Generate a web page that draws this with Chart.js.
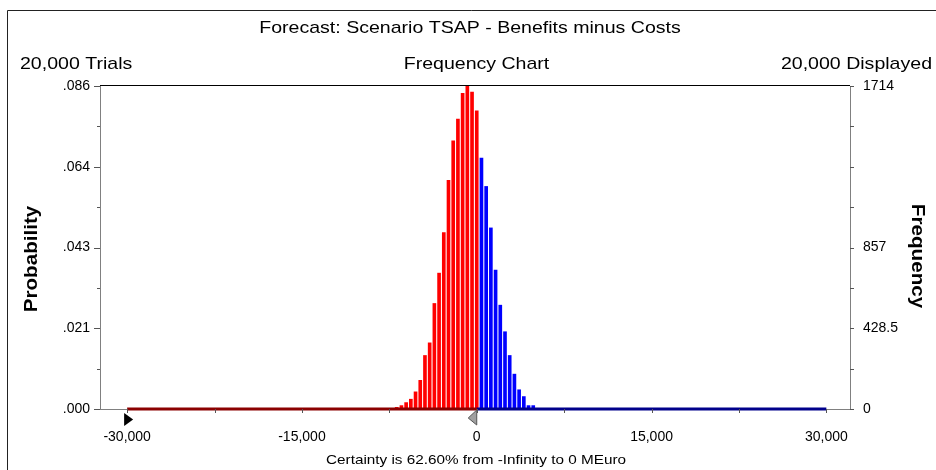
<!DOCTYPE html>
<html>
<head>
<meta charset="utf-8">
<script src="https://cdn.jsdelivr.net/npm/chart.js@4.4.0/dist/chart.umd.min.js"></script>
<style>
  body { margin: 0; background: #fff; }
  #wrap { width: 936px; height: 470px; }
</style>
</head>
<body>
<div id="wrap"><canvas id="forecast-chart"></canvas></div>
<script>
// bin centres (MEuro) and trial counts
const redBins = [-6868, -6464, -6060, -5656, -5252, -4848, -4444, -4040, -3636, -3232, -2828, -2424, -2020, -1616, -1212, -808, -404, 0];
const redFreq = [9, 18, 34, 52, 91, 152, 284, 351, 560, 721, 936, 1213, 1423, 1539, 1675, 1714, 1682, 1582];
const blueBins = [404, 808, 1212, 1616, 2020, 2424, 2828, 3232, 3636, 4040, 4444, 4848];
const blueFreq = [1332, 1181, 961, 737, 551, 410, 284, 185, 102, 66, 18, 18];

// certainty range shown along the base line
const redRange = [-30000, 0];
const blueRange = [0, 30000];

const xTickValues = [-30000, -22500, -15000, -7500, 0, 7500, 15000, 22500, 30000];
const xTickLabels = ['-30,000', '', '-15,000', '', '0', '', '15,000', '', '30,000'];
const freqTickValues = [0, 214.25, 428.5, 642.75, 857, 1071.25, 1285.5, 1499.75, 1714];
const freqTickLabels = ['0', '', '428.5', '', '857', '', '', '', '1714'];
const probTickValues = [0, 0.0107125, 0.021425, 0.0321375, 0.04285, 0.0535625, 0.064275, 0.0749875, 0.0857];
const probTickLabels = ['.000', '', '.021', '', '.043', '', '.064', '', '.086'];

const FONT = 'Liberation Sans, Arial, sans-serif';

const drawText = (ctx, text, x, y, font, align, stretch, rot) => {
    ctx.save();
    ctx.translate(x, y);
    ctx.rotate(rot || 0);
    ctx.scale(stretch, 1);
    ctx.font = font;
    ctx.fillStyle = '#000';
    ctx.textAlign = align;
    ctx.textBaseline = 'alphabetic';
    ctx.fillText(text, 0, 0);
    ctx.restore();
};

const decorPlugin = {
    id: 'decor',
    afterDraw: chart => {
        const ctx = chart.ctx;
        const area = chart.chartArea;
        const xs = chart.scales.x;
        const yl = chart.scales.yProb;
        const yr = chart.scales.yFreq;

        ctx.save();
        // outer window frame
        ctx.strokeStyle = '#222';
        ctx.lineWidth = 1;
        ctx.beginPath();
        ctx.moveTo(7.5, 470);
        ctx.lineTo(7.5, 10.5);
        ctx.lineTo(936, 10.5);
        ctx.stroke();

        // top edge of plot
        ctx.strokeStyle = '#000';
        ctx.beginPath();
        ctx.moveTo(area.left, Math.round(area.top) - 0.5);
        ctx.lineTo(area.right, Math.round(area.top) - 0.5);
        ctx.stroke();

        // tick marks
        ctx.strokeStyle = '#555';
        ctx.beginPath();
        yl.ticks.forEach((t, i) => {
            const y = Math.round(yl.getPixelForValue(t.value)) + 0.5;
            const len = i % 2 === 0 ? 6 : 3;
            ctx.moveTo(area.left, y);
            ctx.lineTo(area.left - len, y);
        });
        yr.ticks.forEach(t => {
            const y = Math.round(yr.getPixelForValue(t.value)) + 0.5;
            ctx.moveTo(area.right, y);
            ctx.lineTo(area.right + 4, y);
        });
        xs.ticks.forEach(t => {
            const x = Math.round(xs.getPixelForValue(t.value)) + 0.5;
            ctx.moveTo(x, area.bottom);
            ctx.lineTo(x, area.bottom + 4);
        });
        ctx.stroke();

        // certainty grabbers
        const xl = xs.getPixelForValue(redRange[0]);
        const b = area.bottom;
        ctx.fillStyle = '#000';
        ctx.beginPath();
        ctx.moveTo(xl - 3, b + 4);
        ctx.lineTo(xl - 3, b + 17);
        ctx.lineTo(xl + 6, b + 10.5);
        ctx.closePath();
        ctx.fill();

        const xz = xs.getPixelForValue(redRange[1]);
        ctx.fillStyle = '#a0a0a0';
        ctx.strokeStyle = '#555';
        ctx.beginPath();
        ctx.moveTo(xz, b + 1);
        ctx.lineTo(xz, b + 16);
        ctx.lineTo(xz - 8.5, b + 9);
        ctx.closePath();
        ctx.fill();
        ctx.stroke();
        ctx.restore();

        // texts
        drawText(ctx, 'Forecast: Scenario TSAP - Benefits minus Costs', 470, 33, '17px ' + FONT, 'center', 1.15);
        drawText(ctx, '20,000 Trials', 20, 69, '17px ' + FONT, 'left', 1.15);
        drawText(ctx, 'Frequency Chart', 476.5, 69, '17px ' + FONT, 'center', 1.15);
        drawText(ctx, '20,000 Displayed', 932, 69, '17px ' + FONT, 'right', 1.15);
        drawText(ctx, 'Certainty is 62.60% from -Infinity to 0 MEuro', 476, 464, '13.3px ' + FONT, 'center', 1.15);
        drawText(ctx, 'Probability', 37, 259, 'bold 17.5px ' + FONT, 'center', 1.18, -Math.PI / 2);
        drawText(ctx, 'Frequency', 912, 256, 'bold 17.5px ' + FONT, 'center', 1.18, Math.PI / 2);
    }
};

const tickFont = { family: FONT, size: 14 };

new Chart(document.getElementById('forecast-chart'), {
    type: 'bar',
    data: {
        datasets: [
            {
                type: 'line',
                data: redRange.map(x => ({ x, y: 0 })),
                borderColor: '#8b0000',
                borderWidth: 3,
                pointRadius: 0,
                yAxisID: 'yFreq',
                clip: false,
                order: 1
            },
            {
                type: 'line',
                data: blueRange.map(x => ({ x, y: 0 })),
                borderColor: '#00008b',
                borderWidth: 3,
                pointRadius: 0,
                yAxisID: 'yFreq',
                clip: false,
                order: 1
            },
            {
                data: redBins.map((x, i) => ({ x, y: redFreq[i] })),
                backgroundColor: '#ff0000',
                barThickness: 3,
                grouped: false,
                yAxisID: 'yFreq',
                order: 2
            },
            {
                data: blueBins.map((x, i) => ({ x, y: blueFreq[i] })),
                backgroundColor: '#0000ff',
                barThickness: 3,
                grouped: false,
                yAxisID: 'yFreq',
                order: 2
            }
        ]
    },
    options: {
        responsive: true,
        maintainAspectRatio: false,
        animation: false,
        layout: { padding: { top: 86, left: 0, right: 0, bottom: 0 } },
        plugins: {
            legend: { display: false },
            tooltip: { enabled: false }
        },
        scales: {
            x: {
                type: 'linear',
                position: 'bottom',
                min: -32330,
                max: 32030,
                offset: false,
                grid: { display: false, drawTicks: false },
                border: { color: '#808080' },
                afterBuildTicks: s => { s.ticks = xTickValues.map(v => ({ value: v })); },
                afterFit: s => { s.height = 61; },
                ticks: {
                    autoSkip: false,
                    maxRotation: 0,
                    padding: 20,
                    color: '#000',
                    font: tickFont,
                    callback: (v, i) => xTickLabels[i]
                }
            },
            yProb: {
                position: 'left',
                min: 0,
                max: 0.0857,
                grid: { display: false, drawTicks: false },
                border: { color: '#808080' },
                afterBuildTicks: s => { s.ticks = probTickValues.map(v => ({ value: v })); },
                afterFit: s => { s.width = 100; },
                ticks: {
                    autoSkip: false,
                    padding: 10,
                    color: '#000',
                    font: tickFont,
                    callback: (v, i) => probTickLabels[i]
                }
            },
            yFreq: {
                position: 'right',
                min: 0,
                max: 1714,
                grid: { display: false, drawTicks: false },
                border: { color: '#808080' },
                afterBuildTicks: s => { s.ticks = freqTickValues.map(v => ({ value: v })); },
                afterFit: s => { s.width = 86; },
                ticks: {
                    autoSkip: false,
                    padding: 13,
                    color: '#000',
                    font: tickFont,
                    callback: (v, i) => freqTickLabels[i]
                }
            }
        }
    },
    plugins: [decorPlugin]
});
</script>
</body>
</html>
